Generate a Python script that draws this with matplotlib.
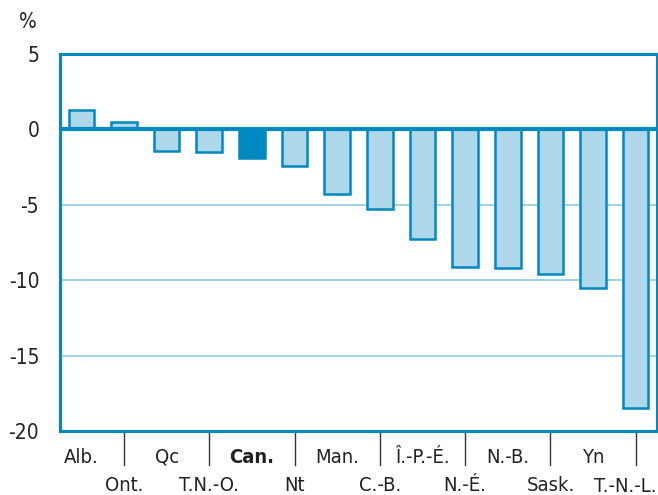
import numpy as np
import matplotlib.pyplot as plt

plt.rcParams['font.family'] = ['DejaVu Sans']
plt.rcParams['font.stretch'] = 'condensed'

regions = ['Alb.', 'Ont.', 'Qc', 'T.N.-O.', 'Can.', 'Nt', 'Man.', 'C.-B.',
           'Î.-P.-É.', 'N.-É.', 'N.-B.', 'Sask.', 'Yn', 'T.-N.-L.']
change = [1.3, 0.5, -1.4, -1.5, -1.9, -2.4, -4.3, -5.3, -7.3, -9.1, -9.2, -9.6, -10.5, -18.5]
yticks = [5, 0, -5, -10, -15, -20]

blue = '#0088c0'
light = '#aed8ea'
grid = '#8fcbe6'

fig = plt.figure(figsize=(6.58, 4.95), dpi=100)
ax = fig.add_axes([60 / 658, 1 - 431 / 495, 597 / 658, 377 / 495])

x = np.arange(len(regions))
fills = [blue if r == 'Can.' else light for r in regions]
ax.bar(x, change, width=0.6, color=fills, edgecolor=blue, linewidth=1.8, zorder=3)

for v in yticks[2:-1]:
    ax.axhline(v, color=grid, lw=1.2, zorder=1)
ax.axhline(0, color=blue, lw=3, zorder=4)

ax.set_xlim(-0.5, len(regions) - 0.5)
ax.set_ylim(-20, 5)
ax.set_yticks(yticks)
ax.set_yticklabels([str(v) for v in yticks], fontsize=15, color='#222222')
ax.tick_params(axis='y', length=0, pad=15)
ax.set_xticks([])
for s in ax.spines.values():
    s.set_color(blue)
    s.set_linewidth(2.2)

# two-row category labels, separators at odd positions
xt = ax.get_xaxis_transform()
for i, r in enumerate(regions):
    row = 0 if i % 2 == 0 else 1
    y = -0.07 - 0.075 * row
    if i == len(regions) - 1:
        fig.text(656 / 658, 1 - 486 / 495, r, ha='right', va='center',
                 fontsize=14.5, color='#222222')
    else:
        ax.text(i, y, r, transform=xt, ha='center', va='center', fontsize=14.5,
                color='#222222', fontweight='bold' if r == 'Can.' else 'normal')
    if i % 2 == 1:
        ax.plot([i, i], [0, -0.09], transform=xt, color='#333333', lw=1, clip_on=False)

fig.text(28 / 658, 1 - 22 / 495, '%', fontsize=15, ha='center', va='center', color='#222222')

fig.savefig('out.png', dpi=100)
